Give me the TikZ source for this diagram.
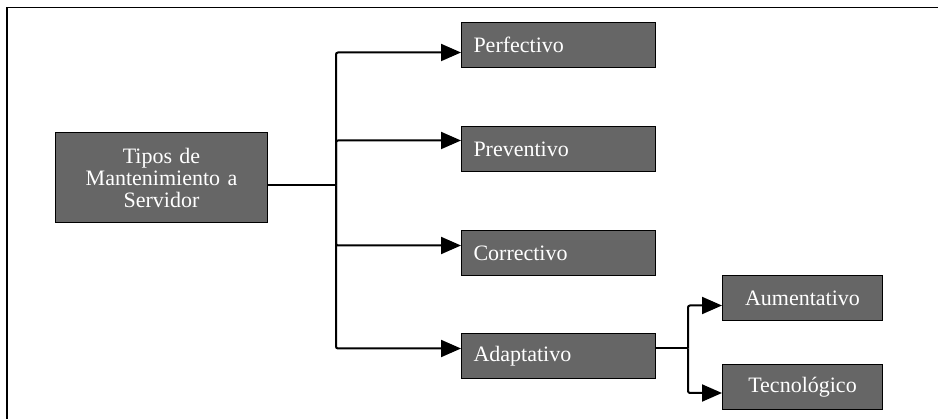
\documentclass[tikz,border=0pt]{standalone}
\usepackage{fontspec}
\setmainfont{Liberation Serif}
\usetikzlibrary{arrows.meta}
\begin{document}
\begin{tikzpicture}[x=1pt,y=-1pt,
  box/.style={draw=black, line width=1pt, fill=black!60, text=white,
    font=\fontsize{22}{22}\selectfont, minimum height=45pt, inner ysep=0pt,
    anchor=north west},
  mainbox/.style={box, minimum width=212pt, minimum height=90pt,
    text width=200pt, inner xsep=6pt, align=center},
  leftbox/.style={box, text width=170pt, inner xsep=12pt, align=left},
  subbox/.style={box, text width=150pt, inner xsep=5pt, align=center},
  conn/.style={line width=2pt, rounded corners=2pt},
  arr/.style={conn, -{Triangle[length=20pt,width=17pt]}},
  frameline/.style={line width=1.5pt}
]
\useasboundingbox (0,0) rectangle (938,419);
\coordinate (fbl) at (7,419);
\coordinate (ftl) at (7,7.5);
\coordinate (ftr) at (938,7.5);
\draw[frameline] (fbl) -- (ftl) -- (ftr);

\node[mainbox] (main) at (55,132) {Tipos de\\Mantenimiento a\\Servidor};
\node[leftbox] (perf) at (461,22) {Perfectivo};
\node[leftbox] (prev) at (461,126) {Preventivo};
\node[leftbox] (corr) at (461,230) {Correctivo};
\node[leftbox] (adap) at (461,333) {Adaptativo};
\node[subbox] (aum) at (722,275) {Aumentativo};
\node[subbox] (tec) at (722,364) {Tecnológico};

\coordinate (j1x) at (336,0);
\coordinate (mout) at ([yshift=-8pt]main.east);
\coordinate (j1) at (mout -| j1x);
\draw[conn] (mout) -- (j1);
\draw[arr] (j1) |- ([yshift=-7.5pt]perf.west);
\draw[arr] (j1) |- ([yshift=8.5pt]prev.west);
\draw[arr] (j1) |- ([yshift=7.5pt]corr.west);
\draw[arr] (j1) |- ([yshift=7.5pt]adap.west);

\coordinate (j2x) at (688,0);
\coordinate (aout) at ([yshift=7.5pt]adap.east);
\coordinate (j2) at (aout -| j2x);
\draw[conn] (aout) -- (j2);
\draw[arr] (j2) |- ([yshift=-7.5pt]aum.west);
\draw[arr] (j2) |- ([yshift=-6pt]tec.west);
\end{tikzpicture}
\end{document}
